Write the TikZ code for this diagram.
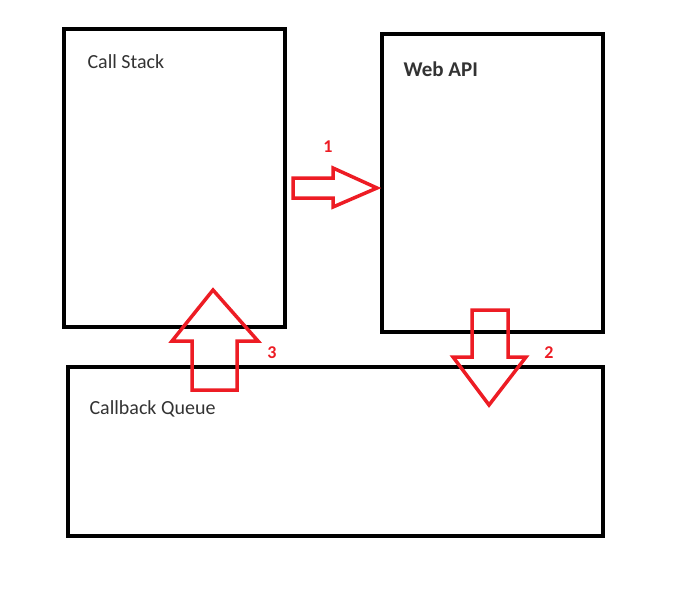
\documentclass[tikz,border=0pt]{standalone}
\usepackage{fontspec}
\setmainfont{Carlito}
\usepackage{xcolor}
\usetikzlibrary{positioning}
\definecolor{loopRed}{HTML}{ED1C24}
\definecolor{darkGray}{HTML}{333333}

\begin{document}
\begin{tikzpicture}[
  x=1pt, y=-1pt,
  every node/.style={font=\fontsize{20}{24}\selectfont, text=darkGray},
  panel/.style={rectangle, draw=black, line width=4.5pt, inner sep=0pt},
  blockarrow/.style={draw=loopRed, line width=3.5pt, line join=miter},
  steplabel/.style={font=\fontsize{18}{20}\selectfont\bfseries, text=loopRed},
]

\useasboundingbox (0,0) rectangle (692,589);

% === PANELS ===
\node[panel, minimum width=221pt, minimum height=298pt] (stack) at (174.5,178) {};
\node[panel, minimum width=221pt, minimum height=298pt] (webapi) at (492.5,183) {};
\node[panel, minimum width=535pt, minimum height=169pt] (queue) at (335.5,451.5) {};

% Panel titles
\node[anchor=west] (stacktitle) at (84,62) {Call Stack};
\node[anchor=west, font=\fontsize{21}{24}\selectfont\bfseries] (webtitle) at (400,69) {Web API};
\node[anchor=west] (queuetitle) at (86,409) {Callback Queue};

% === ARROW 1: Call Stack to Web API ===
\draw[blockarrow] (293,178) -- (333,178) -- (333,168) -- (377,188) -- (333,207) -- (333,198) -- (293,198) -- cycle;
\node[steplabel] (one) at (328,147) {1};

% === ARROW 2: Web API to Callback Queue ===
\draw[blockarrow] (472,310) -- (508,310) -- (508,357) -- (526,357) -- (489,405) -- (453,357) -- (472,357) -- cycle;
\node[steplabel] (two) at (549,353) {2};

% === ARROW 3: Callback Queue to Call Stack ===
\draw[blockarrow] (192,390) -- (192,341) -- (172,341) -- (213,290) -- (258,341) -- (237,341) -- (237,390) -- cycle;
\node[steplabel] (three) at (272,353) {3};

\end{tikzpicture}
\end{document}
